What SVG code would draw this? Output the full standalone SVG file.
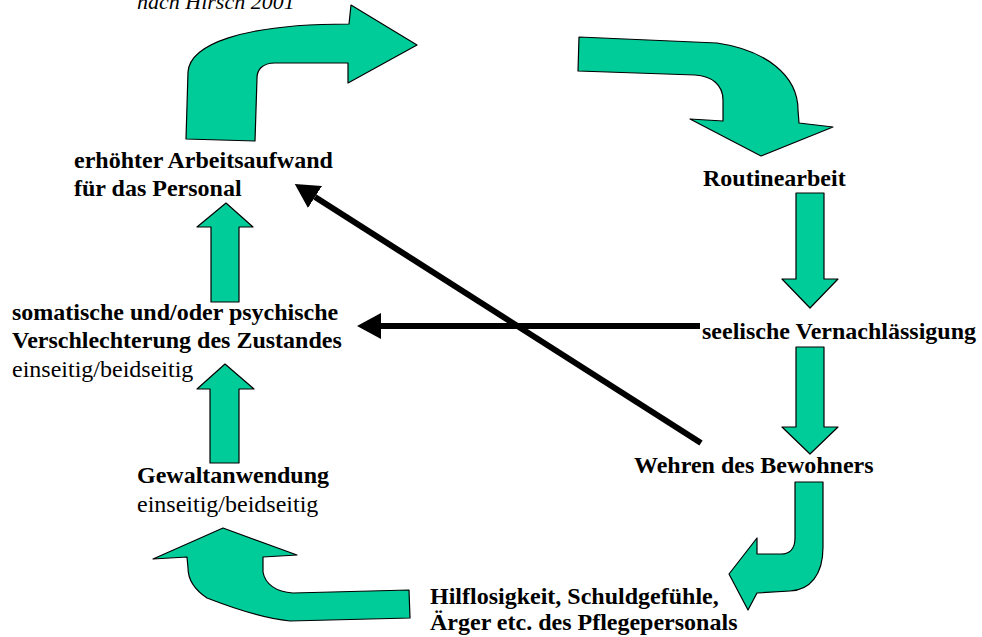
<svg xmlns="http://www.w3.org/2000/svg" width="982" height="637" viewBox="0 0 982 637">
<style>
  .b{font-family:"Liberation Serif","Times New Roman",serif;font-size:24px;font-weight:bold;fill:#000}
  .r{font-family:"Liberation Serif","Times New Roman",serif;font-size:24px;fill:#000}
  .i{font-family:"Liberation Serif","Times New Roman",serif;font-size:22px;font-style:italic;fill:#000}
  .g{fill:#00CC99;stroke:#000;stroke-width:1.2;stroke-linejoin:round}
  .k{stroke:#000;stroke-width:6;fill:none}
</style>
<defs>
  <marker id="ah" markerUnits="userSpaceOnUse" viewBox="0 0 24 26" refX="0" refY="13" markerWidth="24" markerHeight="26" orient="auto">
    <path d="M0,0 L24,13 L0,26 Z" fill="#000"/>
  </marker>
</defs>
<rect width="982" height="637" fill="#fff"/>
<text class="i" x="137" y="9">nach Hirsch 2001</text>
<g id="connectors">
  <path class="g" d="M186,139 L188,72 C190,45 240,24 349,24 L351,5 L417,45 L348,83 L348,63 L275,63 C262,63 257,70 257,78 L255,141 Z"/>
  <path class="g" d="M579,37 L717,43 C765,50 798,75 798,110 L799,123 L833,127 L761,156 L690,119 L723,121 L723,100 C723,85 712,76 695,75 L578,71 Z"/>
  <path class="g" d="M796,193 L824,193 L824,279 L838,279 L810,308 L782,279 L796,279 Z"/>
  <path class="g" d="M796,347 L824,347 L824,427 L838,427 L810,454 L782,427 L796,427 Z"/>
  <path class="g" d="M795,482 L823,482 L823,547 C823,575 810,590 790,591 L757,593 L748,610 L729,574 L757,538 L757,554 L781,554 C790,554 795,548 795,538 Z"/>
  <path class="g" d="M410,618 L290,621 C260,618 225,605 207,598 C195,590 188,580 188,568 L187,557 L153,559 L223,528 L297,555 L263,557 L263,572 C265,584 276,592 293,593 L409,590 Z"/>
  <path class="g" d="M239,463 L210,463 L210,389 L197,389 L225,364 L254,389 L239,389 Z"/>
  <path class="g" d="M239,302 L211,302 L211,227 L197,227 L226,203 L253,227 L239,227 Z"/>
  <line class="k" x1="700" y1="326" x2="381" y2="326" marker-end="url(#ah)"/>
  <line class="k" x1="701" y1="443" x2="315" y2="197" marker-end="url(#ah)"/>
</g>
<g id="n-arbeitsaufwand">
  <text class="b" x="74" y="168">erhöhter Arbeitsaufwand</text>
  <text class="b" x="74" y="196">für das Personal</text>
</g>
<g id="n-routine"><text class="b" x="703" y="186">Routinearbeit</text></g>
<g id="n-seelisch"><text class="b" x="702" y="339">seelische Vernachlässigung</text></g>
<g id="n-wehren"><text class="b" x="634" y="473">Wehren des Bewohners</text></g>
<g id="n-hilflos">
  <text class="b" x="430" y="604">Hilflosigkeit, Schuldgefühle,</text>
  <text class="b" x="430" y="630">Ärger etc. des Pflegepersonals</text>
</g>
<g id="n-gewalt">
  <text class="b" x="137" y="483">Gewaltanwendung</text>
  <text class="r" x="137" y="512">einseitig/beidseitig</text>
</g>
<g id="n-verschlechterung">
  <text class="b" x="12" y="320">somatische und/oder psychische</text>
  <text class="b" x="12" y="348">Verschlechterung des Zustandes</text>
  <text class="r" x="12" y="377">einseitig/beidseitig</text>
</g>
</svg>
